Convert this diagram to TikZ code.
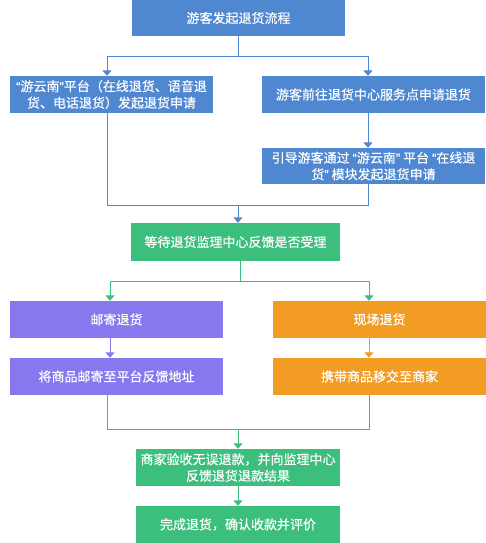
\documentclass[tikz,border=0pt]{standalone}
\usepackage{fontspec}
\setmainfont{Noto Sans CJK SC}[FakeBold=0.35]
\newfontfamily\lat{Liberation Sans}[FakeBold=0.35]
\newcommand{\myql}{{\lat “}}
\newcommand{\myqr}{{\lat ”}}
\usetikzlibrary{arrows.meta,calc}
\definecolor{cblue}{HTML}{4F87D1}
\definecolor{cgreen}{HTML}{3CBE7D}
\definecolor{cpurple}{HTML}{8878EE}
\definecolor{corange}{HTML}{F39C23}
\tikzset{
  box/.style={draw=none,fill=#1,text=white,inner sep=0pt,align=center,
    font=\fontsize{13pt}{16.5pt}\selectfont},
  conn/.style={draw=#1,line width=1pt},
  arr/.style={draw=#1,line width=1pt,-{Triangle[width=9pt,length=5.5pt]}},
  x=1pt,y=-1pt
}
\begin{document}
\begin{tikzpicture}
\useasboundingbox (0,0) rectangle (486,543);
% boxes
\node[box=cblue,minimum width=213pt,minimum height=36pt] (b1) at (238.5,18) {游客发起退货流程};
\node[box=cblue,minimum width=203pt,minimum height=37pt] (b2) at (111.5,94.5) {\myql 游云南\myqr 平台（在线退货、语音退\\货、电话退货）发起退货申请};
\node[box=cblue,minimum width=223pt,minimum height=37pt] (b3) at (373.5,94.5) {游客前往退货中心服务点申请退货};
\node[box=cblue,minimum width=223pt,minimum height=36pt] (b4) at (373.5,166) {引导游客通过 \myql 游云南\myqr{} 平台 \myql 在线退\\货\myqr{} 模块发起退货申请};
\node[box=cgreen,minimum width=209pt,minimum height=38pt] (b5) at (235.5,242) {等待退货监理中心反馈是否受理};
\node[box=cpurple,minimum width=213pt,minimum height=37pt] (b6) at (116.5,319.5) {邮寄退货};
\node[box=corange,minimum width=213pt,minimum height=37pt] (b7) at (379.5,319.5) {现场退货};
\node[box=cpurple,minimum width=213pt,minimum height=37pt] (b8) at (116.5,376.5) {将商品邮寄至平台反馈地址};
\node[box=corange,minimum width=213pt,minimum height=37pt] (b9) at (379.5,376.5) {携带商品移交至商家};
\node[box=cgreen,minimum width=204pt,minimum height=37pt] (b10) at (238,467.5) {商家验收无误退款，并向监理中心\\反馈退货退款结果};
\node[box=cgreen,minimum width=204pt,minimum height=37pt] (b11) at (238,524.5) {完成退货，确认收款并评价};
% junction coordinates
\coordinate (j1) at (238,57);
\coordinate (j2) at (238,205);
\coordinate (j3) at (240,281);
\coordinate (j4) at (238,429);
% top split
\draw[conn=cblue] (b1.south -| j1) -- (j1);
\draw[arr=cblue] (j1) -| ($(b2.north)+(-4.5,0)$);
\draw[arr=cblue] (j1) -| ($(b3.north)+(-5.5,0)$);
\draw[arr=cblue] ($(b3.south)+(-5.5,0)$) -- ($(b4.north)+(-5.5,0)$);
% merge to b5
\draw[conn=cblue] ($(b2.south)+(-4.5,0)$) |- (j2);
\draw[conn=cblue] ($(b4.south)+(-5.5,0)$) |- (j2);
\draw[arr=cblue] (j2) -- (b5.north -| j2);
% split from b5
\draw[conn=cgreen] (b5.south -| j3) -- (j3);
\draw[arr=cgreen] (j3) -| ($(b6.north)+(-6.5,0)$);
\draw[arr=cgreen] (j3) -| ($(b7.north)+(-10.5,0)$);
\draw[arr=cpurple] ($(b6.south)+(-6.5,0)$) -- ($(b8.north)+(-6.5,0)$);
\draw[arr=corange] ($(b7.south)+(-10.5,0)$) -- ($(b9.north)+(-10.5,0)$);
% merge to b10
\draw[conn=cgreen] ($(b8.south)+(-9.5,0)$) |- (j4);
\draw[conn=cgreen] ($(b9.south)+(-10.5,0)$) |- (j4);
\draw[arr=cgreen] (j4) -- (b10.north);
\draw[arr=cgreen] (b10) -- (b11);
\end{tikzpicture}
\end{document}
